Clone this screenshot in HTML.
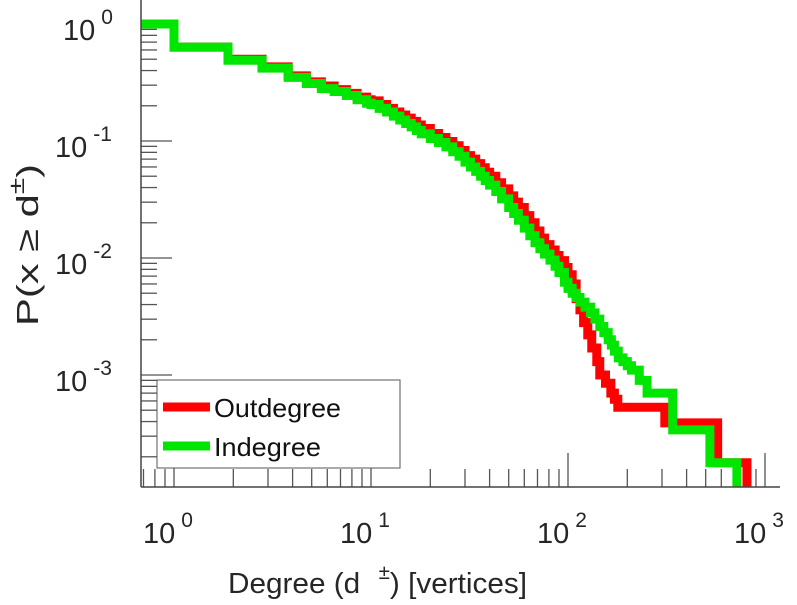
<!DOCTYPE html>
<html><head><meta charset="utf-8"><style>
body{margin:0;background:#fff;}
svg text{font-family:"Liberation Sans",sans-serif;fill:#262626;}
</style></head><body>
<svg id="chart" width="797" height="600" xmlns="http://www.w3.org/2000/svg">
<g id="ticks"></g>
<g id="series"></g>
<g id="axes"></g>
<g id="labels"></g>
<text x="228" y="593" font-size="29" textLength="299" lengthAdjust="spacingAndGlyphs">Degree (d <tspan dx="10" dy="-14" font-size="20">±</tspan><tspan dy="14">) [vertices]</tspan></text>
<text transform="translate(38,326) rotate(-90)" font-size="31" textLength="162" lengthAdjust="spacingAndGlyphs">P(x ≥ d<tspan dy="-14" font-size="22">±</tspan><tspan dy="14">)</tspan></text>
<g>
<rect x="157" y="380" width="243" height="88" fill="#fff" stroke="#555" stroke-width="1"/>
<line x1="163" y1="407" x2="210" y2="407" stroke="#ff0000" stroke-width="9"/>
<text x="214" y="417" font-size="26" style="fill:#111" textLength="127" lengthAdjust="spacingAndGlyphs">Outdegree</text>
<line x1="163" y1="446" x2="210" y2="446" stroke="#00e600" stroke-width="9"/>
<text x="214" y="456" font-size="26" style="fill:#111" textLength="107" lengthAdjust="spacingAndGlyphs">Indegree</text>
</g>
</svg>
<script>
const outDeg=[0.5,1,1.88,2.8,3.8,4.7,5.6,6.5,7.5,8.5,9.5,10,11,12,13,14,15,16,17,18,20,22,24,26,28,30,32,34,36,38,40,43,46,50,53,56,60,64,68,72,76,81,86,90,96,100,105,110,115,120,126,132,140,145,155,165,172,179,310,575,810];
const outP=[1,0.635,0.5,0.43,0.36,0.32,0.295,0.275,0.255,0.237,0.225,0.22,0.205,0.19,0.177,0.167,0.157,0.147,0.137,0.128,0.116,0.107,0.099,0.091,0.083,0.075,0.07,0.064,0.059,0.054,0.05,0.044,0.039,0.034,0.03,0.027,0.023,0.02,0.017,0.0148,0.013,0.0117,0.0105,0.0095,0.0083,0.0072,0.006,0.0045,0.0036,0.0028,0.0022,0.0017,0.0013,0.001,0.00085,0.0007,0.00062,0.00053,0.00039,0.000178,0.0001];
const inDeg=[0.5,1,1.88,2.8,3.8,4.7,5.6,6.5,7.5,8.5,9.5,10,11,12,13,14,15,16,17,18,20,22,24,26,28,30,32,34,36,38,40,43,46,50,53,56,60,64,68,72,76,81,86,90,96,100,105,110,115,122,130,137,145,152,160,166,172,180,190,200,210,230,252,340,525,720];
const inP=[1,0.635,0.49,0.42,0.35,0.31,0.28,0.265,0.245,0.225,0.21,0.205,0.19,0.177,0.163,0.151,0.141,0.132,0.123,0.115,0.105,0.097,0.089,0.081,0.074,0.066,0.06,0.055,0.05,0.046,0.042,0.037,0.032,0.027,0.024,0.021,0.018,0.0155,0.0135,0.012,0.0108,0.0096,0.0085,0.0075,0.0062,0.0055,0.005,0.0046,0.0042,0.0038,0.0034,0.003,0.0026,0.0023,0.002,0.0018,0.0016,0.0014,0.0013,0.0012,0.0011,0.0009,0.0007,0.00034,0.000178,0.0001];
const xTicks=[0,1,2,3];
const yTicks=[0,-1,-2,-3];
const NS="http://www.w3.org/2000/svg";
const X0=141,X1=780,Y0=487,YT=0;
const xs=d=>174+197*Math.log10(d);
const ys=p=>24-117*Math.log10(p);
function mk(tag,attrs,parent){const e=document.createElementNS(NS,tag);for(const k in attrs)e.setAttribute(k,attrs[k]);parent.appendChild(e);return e;}
const tg=document.getElementById('ticks'),sg=document.getElementById('series'),ag=document.getElementById('axes'),lg=document.getElementById('labels');
let a1=mk('line',{x1:X0,y1:YT,x2:X0,y2:Y0,stroke:'#444','stroke-width':1.5},ag);


let a2=mk('line',{x1:X0,y1:Y0,x2:X1,y2:Y0,stroke:'#444','stroke-width':1.5},ag);


for(let k=-1;k<=3;k++){for(let m=1;m<10;m++){const d=m*Math.pow(10,k);const x=xs(d);if(x<X0||x>X1)continue;const len=m===1?34:18;
 const t=mk('line',{x1:x,y1:Y0,x2:x,y2:Y0-len,stroke:'#555','stroke-width':1.3},tg);
 
 }}
for(let k=-4;k<=0;k++){for(let m=1;m<10;m++){const p=m*Math.pow(10,k);const y=ys(p);if(y>Y0||y<YT)continue;const len=m===1?31:16;
 const t=mk('line',{x1:X0,y1:y,x2:X0+len,y2:y,stroke:'#555','stroke-width':1.3},tg);
 
 }}
function lab(x,y,exp,name){const t=mk('text',{x:x,y:y,'font-size':29},lg);
 
 
 t.innerHTML='10<tspan dx="6" dy="-16" font-size="21">'+(exp<0?'-':'')+Math.abs(exp)+'</tspan>';}
xTicks.forEach(e=>lab(xs(Math.pow(10,e))-31,543,e,'x-tick-label'));
yTicks.forEach(e=>lab(e<0?55:63,ys(Math.pow(10,e))+16,e,'y-tick-label'));
function stairs(dd,pp,color,name){let pts=[];for(let i=0;i<dd.length;i++){const x=Math.max(X0,xs(dd[i]));const y=Math.min(Y0,ys(pp[i]));
 if(i>0)pts.push([x,Math.min(Y0,ys(pp[i-1]))]);pts.push([x,y]);}
 const path=mk('polyline',{points:pts.map(p=>p.join(',')).join(' '),fill:'none',stroke:color,'stroke-width':9,'stroke-linejoin':'miter'},sg);
 
 }
stairs(outDeg,outP,'#ff0000','outdegree-line');
stairs(inDeg,inP,'#00e600','indegree-line');
</script>
</body></html>
